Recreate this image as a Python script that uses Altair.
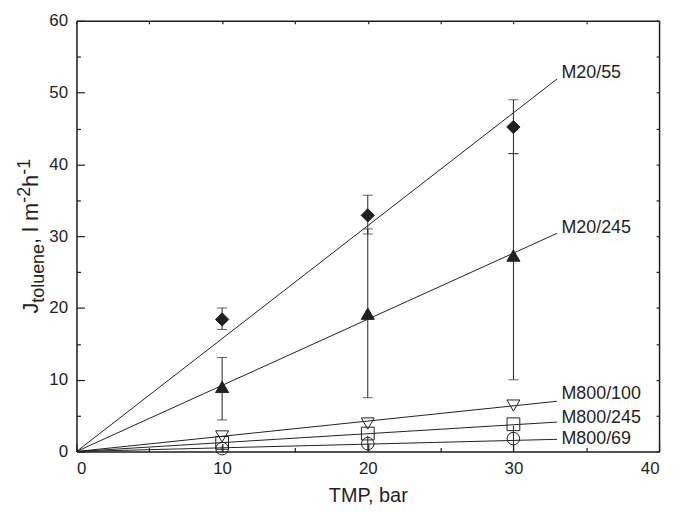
import altair as alt
import pandas as pd

W, H = 587, 434
FONT = "Liberation Sans"
INK = "#231f20"

# ---- data ----
tmp = [10, 20, 30]
series = ["M20/55", "M20/245", "M800/100", "M800/245", "M800/69"]
j_m20_55 = [18.4, 32.9, 45.2]
j_m20_245 = [9.0, 19.2, 27.3]
j_m800_100 = [2.1, 3.9, 6.4]
j_m800_245 = [1.2, 2.5, 3.8]
j_m800_69 = [0.4, 1.1, 1.8]

shapes = ["diamond", "triangle-up", "triangle-down", "square", "circle"]
fills = [INK, INK, "transparent", "transparent", "transparent"]
sizes = [180, 160, 150, 100, 120]

fit_x_end = 33.0
fit_y_end = [51.9, 30.4, 7.0, 4.1, 1.7]
label_x = 33.3
label_y = [52.7, 31.1, 8.0, 4.7, 1.8]

cap_series = ["M20/55"] * 3 + ["M20/245"] * 3
cap_tmp = [10, 20, 30, 10, 20, 30]
cap_lo = [17.0, 30.3, 41.5, 4.4, 7.5, 10.0]
cap_hi = [20.0, 35.7, 49.0, 13.1, 31.0, 41.5]

stub_tmp = [10, 20, 30]
stub_lo = [0.0, 0.0, 0.0]
stub_hi = [0.8, 2.2, 3.6]

x_major = [0, 10, 20, 30, 40]
x_minor = [5, 15, 25, 35]
x_all = [0, 5, 10, 15, 20, 25, 30, 35, 40]
y_major = [0, 10, 20, 30, 40, 50, 60]
y_minor = [5, 15, 25, 35, 45, 55]
y_all = [0, 5, 10, 15, 20, 25, 30, 35, 40, 45, 50, 55, 60]

# ---- tables ----
pts = pd.DataFrame({
    "series": [s for s in series for _ in tmp],
    "tmp": tmp * len(series),
    "j": j_m20_55 + j_m20_245 + j_m800_100 + j_m800_245 + j_m800_69,
})
fit = pd.DataFrame({
    "series": [s for s in series for _ in range(2)],
    "tmp": [0, fit_x_end] * len(series),
    "j": [v for e in fit_y_end for v in (0, e)],
})
labels = pd.DataFrame({"series": series, "tmp": [label_x] * len(series), "j": label_y})
caps = pd.DataFrame({"series": cap_series, "tmp": cap_tmp, "lo": cap_lo, "hi": cap_hi})
stubs = pd.DataFrame({"tmp": stub_tmp, "lo": stub_lo, "hi": stub_hi})

xs = alt.Scale(domain=[0, 40], nice=False, zero=False)
ys = alt.Scale(domain=[0, 60], nice=False, zero=False)


def tick_axis(orient, offset, values, size, domain=False):
    return alt.Axis(orient=orient, offset=offset, values=values, ticks=True,
                    tickSize=size, tickColor=INK, tickWidth=1.2, labels=False,
                    domain=domain, domainColor=INK, domainWidth=1.5, grid=False)


# fit lines + main labelled axes
lines = alt.Chart(fit).mark_line(color=INK, strokeWidth=1).encode(
    x=alt.X("tmp:Q", scale=xs, title="TMP, bar",
            axis=alt.Axis(orient="bottom", values=x_major, format="d", ticks=False,
                          tickSize=0, domain=True, domainColor=INK, domainWidth=1.5,
                          labelFont=FONT, labelFontSize=17, labelColor=INK,
                          labelPadding=9, titleFont=FONT, titleFontSize=20,
                          titleFontWeight="normal", titleColor=INK,
                          titlePadding=9, grid=False)),
    y=alt.Y("j:Q", scale=ys, title=None,
            axis=alt.Axis(orient="left", values=y_major, format="d", ticks=False,
                          tickSize=0, domain=True, domainColor=INK, domainWidth=1.5,
                          labelFont=FONT, labelFontSize=17, labelColor=INK,
                          labelPadding=9, grid=False)),
    detail="series:N",
)

# error bar stems (carry the inward major ticks on bottom / left)
stems = alt.Chart(caps).mark_rule(color=INK, strokeWidth=1).encode(
    x=alt.X("tmp:Q", scale=xs, title=None, axis=tick_axis("top", -H, x_major, 8)),
    y=alt.Y("lo:Q", scale=ys, title=None, axis=tick_axis("right", -W, y_major, 8)),
    y2="hi:Q",
)

stub_rules = alt.Chart(stubs).mark_rule(color=INK, strokeWidth=1).encode(
    x=alt.X("tmp:Q", scale=xs, axis=None),
    y=alt.Y("lo:Q", scale=ys, axis=None),
    y2="hi:Q",
)

# lower caps (carry the inward minor ticks on bottom / left)
caps_lo = alt.Chart(caps).mark_tick(orient="horizontal", size=10, thickness=1, color=INK).encode(
    x=alt.X("tmp:Q", scale=xs, title=None, axis=tick_axis("top", -H, x_minor, 4)),
    y=alt.Y("lo:Q", scale=ys, title=None, axis=tick_axis("right", -W, y_minor, 4)),
)

# upper caps (carry the frame and small inward ticks on top / right)
caps_hi = alt.Chart(caps).mark_tick(orient="horizontal", size=10, thickness=1, color=INK).encode(
    x=alt.X("hi_x:Q", scale=xs, title=None, axis=tick_axis("bottom", -H, x_all, 3, True)),
    y=alt.Y("hi:Q", scale=ys, title=None, axis=tick_axis("left", -W, y_all, 3, True)),
).transform_calculate(hi_x="datum.tmp")

markers = alt.Chart(pts).mark_point(filled=True, stroke=INK, strokeWidth=1, opacity=1).encode(
    x=alt.X("tmp:Q", scale=xs, axis=None),
    y=alt.Y("j:Q", scale=ys, axis=None),
    shape=alt.Shape("series:N", scale=alt.Scale(domain=series, range=shapes), legend=None),
    fill=alt.Fill("series:N", scale=alt.Scale(domain=series, range=fills), legend=None),
    size=alt.Size("series:N", scale=alt.Scale(domain=series, range=sizes), legend=None),
)

text = alt.Chart(labels).mark_text(align="left", baseline="middle", font=FONT,
                                   fontSize=18, color=INK).encode(
    x=alt.X("tmp:Q", scale=xs, axis=None),
    y=alt.Y("j:Q", scale=ys, axis=None),
    text="series:N",
)

# y-axis title with subscript / superscripts, built from pieces
one = pd.DataFrame({"k": [0]})


def piece(txt, size, xpix, ypix):
    return alt.Chart(one).mark_text(text=txt, angle=270, align="left",
                                    baseline="alphabetic", font=FONT,
                                    fontSize=size, color=INK).encode(
        x=alt.value(xpix), y=alt.value(ypix))


title_parts = [("J", 22, -39.0, 295.0), ("toluene", 18, -33.0, 284.0),
               (", l m", 22, -39.0, 225.0), ("-2", 18, -47.0, 183.4),
               ("h", 22, -39.0, 167.4), ("-1", 18, -47.0, 155.2)]
title_layers = [piece(*p) for p in title_parts]

chart = alt.layer(
    lines, stems, stub_rules, caps_lo, caps_hi, markers, text, *title_layers
).resolve_axis(x="independent", y="independent").properties(
    width=W, height=H,
    autosize=alt.AutoSizeParams(type="none"),
    padding={"left": 69, "top": 11, "right": 8, "bottom": 52},
).configure_view(stroke=None).configure(background="white")

chart.save("out.html", embed_options={"renderer": "svg", "actions": False})
